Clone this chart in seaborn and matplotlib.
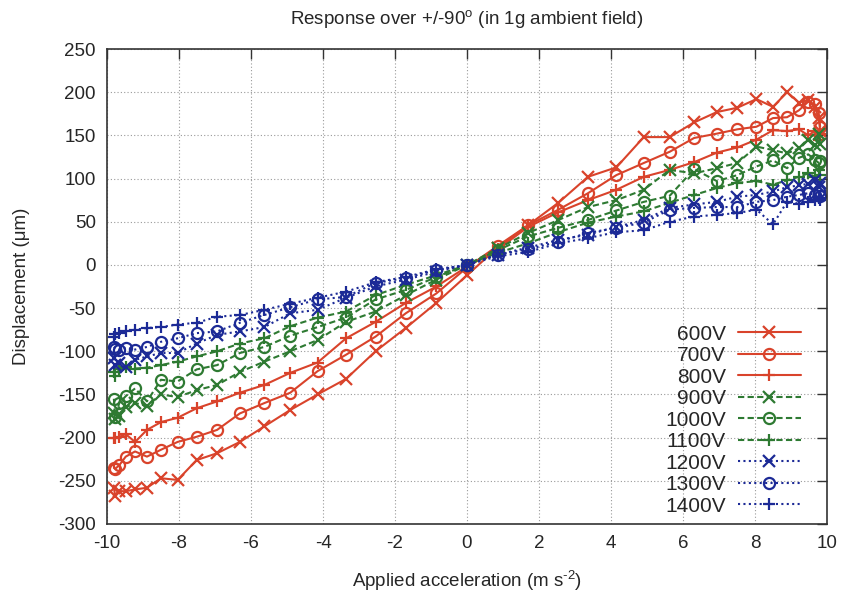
import matplotlib
matplotlib.use("Agg")
import matplotlib.pyplot as plt
import seaborn as sns
import pandas as pd

# Applied acceleration (m s^-2), sampled in 5 degree steps over +/-90 degrees
accel = [-9.81, -9.77, -9.66, -9.48, -9.22, -8.89, -8.50, -8.04, -7.51, -6.94,
         -6.31, -5.63, -4.91, -4.15, -3.36, -2.54, -1.70, -0.85, 0.00,
         0.85, 1.70, 2.54, 3.36, 4.15, 4.91, 5.63, 6.31, 6.94, 7.51,
         8.04, 8.50, 8.89, 9.22, 9.48, 9.66, 9.77, 9.81]

# Displacement (um) for each drive voltage
d600 = [-258, -268, -262, -262, -260, -258, -247, -249, -226, -218,
        -205, -187, -168, -150, -132, -100, -73, -44, -12,
        20, 46, 72, 102, 113, 148, 148, 165, 177, 182,
        192, 183, 200, 188, 191, 183, 170, 155]
d700 = [-235, -236, -232, -222, -216, -222, -214, -205, -199, -191,
        -172, -160, -148, -123, -104, -83, -56, -33, -3,
        22, 46, 64, 83, 104, 118, 131, 147, 152, 157,
        160, 170, 171, 179, 189, 186, 176, 160]
d800 = [-200, -200, -199, -196, -205, -191, -182, -177, -166, -158,
        -148, -139, -125, -113, -85, -66, -44, -25, -2,
        18, 44, 61, 75, 87, 102, 110, 119, 130, 136,
        145, 156, 155, 157, 150, 155, 145, 152]
d900 = [-172, -178, -175, -165, -160, -163, -150, -153, -145, -139,
        -124, -112, -100, -87, -66, -54, -35, -17, 0,
        19, 37, 52, 67, 75, 87, 110, 106, 112, 118,
        137, 133, 129, 135, 145, 139, 151, 140]
d1000 = [-155, -176, -160, -152, -143, -158, -133, -135, -121, -116,
         -102, -95, -82, -72, -61, -40, -29, -14, 0,
         17, 33, 43, 52, 63, 73, 80, 111, 97, 104,
         114, 121, 112, 124, 128, 122, 118, 120]
d1100 = [-124, -129, -121, -118, -120, -119, -116, -112, -106, -100,
         -91, -85, -71, -61, -54, -35, -23, -12, 0,
         14, 25, 38, 49, 56, 62, 72, 81, 89, 95,
         97, 93, 98, 102, 106, 102, 110, 104]
d1200 = [-108, -116, -114, -118, -110, -106, -102, -102, -91, -81,
         -77, -72, -56, -52, -38, -25, -17, -8, 0,
         12, 20, 29, 35, 44, 52, 66, 70, 73, 79,
         81, 85, 90, 92, 94, 98, 90, 95]
d1300 = [-95, -97, -98, -96, -98, -95, -89, -85, -79, -77,
         -67, -58, -49, -40, -37, -21, -15, -6, 0,
         12, 18, 27, 37, 43, 49, 64, 66, 67, 67,
         73, 75, 79, 81, 83, 81, 85, 80]
d1400 = [-83, -80, -79, -77, -75, -73, -72, -69, -67, -60,
         -58, -52, -45, -38, -31, -20, -14, -5, 0,
         10, 15, 25, 31, 38, 40, 50, 56, 58, 60,
         64, 47, 73, 71, 73, 75, 78, 75]

labels = ["600V", "700V", "800V", "900V", "1000V", "1100V", "1200V", "1300V", "1400V"]
series = [d600, d700, d800, d900, d1000, d1100, d1200, d1300, d1400]

x_ticks = list(range(-10, 11, 2))
y_ticks = list(range(-300, 251, 50))

RED, GREEN, BLUE = "#d9432b", "#2e7a32", "#1c2a96"
colors = [RED] * 3 + [GREEN] * 3 + [BLUE] * 3
dashes = ["-"] * 3 + [(0, (3.0, 1.6))] * 3 + [(0, (1.0, 1.6))] * 3
markers = ["x", "o", "+"] * 3

sns.set_style("white")
plt.rcParams["font.family"] = ["Liberation Sans", "DejaVu Sans"]
plt.rcParams["axes.unicode_minus"] = False
plt.rcParams["mathtext.fontset"] = "custom"
plt.rcParams["mathtext.rm"] = "Liberation Sans"
plt.rcParams["mathtext.it"] = "Liberation Sans:italic"
plt.rcParams["mathtext.default"] = "regular"

fig = plt.figure(figsize=(8.43, 5.92), dpi=100)
ax = fig.add_axes([107 / 843, 1 - 524 / 592, 720 / 843, 475 / 592])

for lab, vals, c, ls, m in zip(labels, series, colors, dashes, markers):
    df = pd.DataFrame({"accel": accel, "disp": vals})
    sns.lineplot(data=df, x="accel", y="disp", ax=ax, sort=False, estimator=None,
                 color=c, linestyle=ls, linewidth=1.5, marker=m,
                 markersize=9 if m != "o" else 8, markeredgewidth=1.6,
                 markerfacecolor="none" if m == "o" else c, markeredgecolor=c,
                 label=lab)

ax.set_xlim(-10, 10)
ax.set_ylim(-300, 250)
ax.set_xticks(x_ticks)
ax.set_yticks(y_ticks)
ax.tick_params(direction="in", top=True, right=True, length=7, width=1,
               labelsize=13.5, pad=8, color="#333333")
ax.grid(True, linestyle=(0, (1, 2)), color="#9a9a9a", linewidth=0.8)
for sp in ax.spines.values():
    sp.set_color("#333333")
    sp.set_linewidth(1.2)

ax.set_xlabel("Applied acceleration (m s$^{\\text{-2}}$)", fontsize=13.5, labelpad=12)
ax.set_ylabel("Displacement (\u03bcm)", fontsize=13.5, labelpad=20)
ax.set_title("Response over +/-90$^{o}$ (in 1g ambient field)", fontsize=13.5, pad=18)

leg = ax.legend(loc="lower right", markerfirst=False, frameon=False, fontsize=15,
                handlelength=3.0, handletextpad=0.6, labelspacing=0.12,
                borderaxespad=0.0, bbox_to_anchor=(0.975, 0.0))

fig.savefig("out.png", dpi=100)
